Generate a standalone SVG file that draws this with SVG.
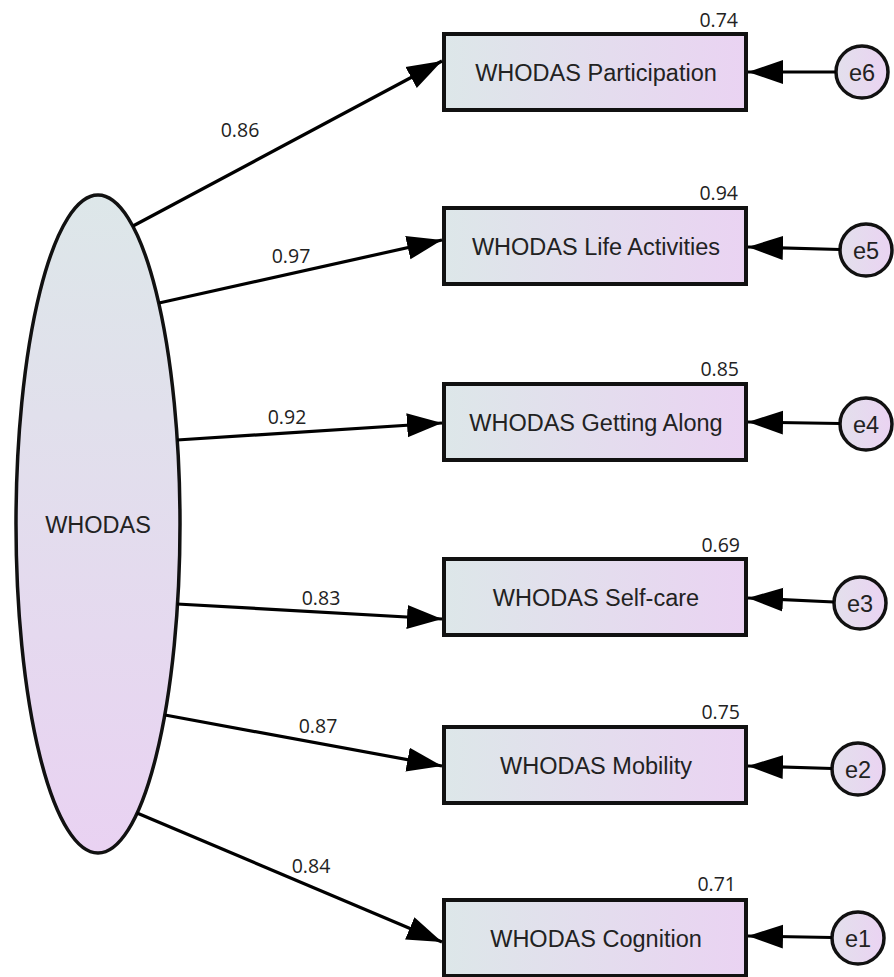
<svg xmlns="http://www.w3.org/2000/svg" width="894" height="977" viewBox="0 0 894 977">
<defs>
<linearGradient id="gBox" x1="0" y1="0" x2="1" y2="0"><stop offset="0" stop-color="#dde7e9"/><stop offset="1" stop-color="#ead3f2"/></linearGradient>
<linearGradient id="gEll" x1="0" y1="0" x2="0" y2="1"><stop offset="0" stop-color="#dde7e9"/><stop offset="1" stop-color="#e9d2f2"/></linearGradient>
<linearGradient id="gErr" x1="0" y1="0" x2="1" y2="0"><stop offset="0" stop-color="#e3e0ec"/><stop offset="1" stop-color="#ead3f2"/></linearGradient>
<marker id="arrow" markerUnits="userSpaceOnUse" markerWidth="37" markerHeight="27" refX="35" refY="12.5" orient="auto"><path d="M0,0.5 L35,12.5 L0,24.5 Z" fill="#000"/></marker>
</defs>
<style>
.conn{stroke:#000;stroke-width:3.2;fill:none;marker-end:url(#arrow)}
.box{fill:url(#gBox);stroke:#111;stroke-width:4}
.err{fill:url(#gErr);stroke:#111;stroke-width:3.5}
.ell{fill:url(#gEll);stroke:#111;stroke-width:3.5}
.lbl{font-family:"Liberation Sans",Arial,sans-serif;font-size:23.5px;fill:#222;text-anchor:middle}
.num{font-family:"Open Sans","Noto Sans",sans-serif;font-size:19.5px;fill:#222}
.val{text-anchor:end}
.pl{text-anchor:middle}
</style>

<g id="WHODAS">
<ellipse class="ell" cx="98" cy="524" rx="82" ry="329"/>
<text class="lbl" x="98" y="532.5">WHODAS</text>
</g>

<g id="participation">
<rect class="box" x="444" y="34" width="302" height="76"/>
<text class="lbl" x="596" y="80.5">WHODAS Participation</text>
<text class="num val" x="738" y="27">0.74</text>
</g>
<g id="life">
<rect class="box" x="444" y="208" width="302" height="76"/>
<text class="lbl" x="596" y="254.5">WHODAS Life Activities</text>
<text class="num val" x="738" y="200">0.94</text>
</g>
<g id="getting">
<rect class="box" x="444" y="384" width="302" height="76"/>
<text class="lbl" x="596" y="430.5">WHODAS Getting Along</text>
<text class="num val" x="739" y="376">0.85</text>
</g>
<g id="selfcare">
<rect class="box" x="444" y="559" width="302" height="76"/>
<text class="lbl" x="596" y="605.5">WHODAS Self-care</text>
<text class="num val" x="740" y="552">0.69</text>
</g>
<g id="mobility">
<rect class="box" x="444" y="727" width="302" height="76"/>
<text class="lbl" x="596" y="773.5">WHODAS Mobility</text>
<text class="num val" x="740" y="719">0.75</text>
</g>
<g id="cognition">
<rect class="box" x="444" y="900" width="302" height="76"/>
<text class="lbl" x="596" y="946.5">WHODAS Cognition</text>
<text class="num val" x="736" y="891">0.71</text>
</g>

<g id="e6"><circle class="err" cx="862" cy="72" r="26"/><text class="lbl" x="862" y="80.5">e6</text></g>
<g id="e5"><circle class="err" cx="866" cy="250" r="26"/><text class="lbl" x="866" y="258.5">e5</text></g>
<g id="e4"><circle class="err" cx="866" cy="424" r="26"/><text class="lbl" x="866" y="432.5">e4</text></g>
<g id="e3"><circle class="err" cx="860" cy="603" r="26"/><text class="lbl" x="860" y="611.5">e3</text></g>
<g id="e2"><circle class="err" cx="858" cy="769" r="26"/><text class="lbl" x="858" y="777.5">e2</text></g>
<g id="e1"><circle class="err" cx="858" cy="938" r="26"/><text class="lbl" x="858" y="946.5">e1</text></g>

<g id="connectors">
<path class="conn" d="M133,226 L442,61"/>
<path class="conn" d="M159,303 L442,240"/>
<path class="conn" d="M177,440 L442,423"/>
<path class="conn" d="M177,604 L442,619"/>
<path class="conn" d="M165,715 L442,766"/>
<path class="conn" d="M137,813 L442,942"/>
<path class="conn" d="M836,72 L748,72"/>
<path class="conn" d="M840,249.5 L748,247"/>
<path class="conn" d="M840,423.5 L748,422"/>
<path class="conn" d="M834,602 L748,598"/>
<path class="conn" d="M832,768.5 L748,766"/>
<path class="conn" d="M832,937.5 L748,936"/>
<text class="num pl" x="240" y="137">0.86</text>
<text class="num pl" x="291" y="263">0.97</text>
<text class="num pl" x="287" y="424">0.92</text>
<text class="num pl" x="321" y="605">0.83</text>
<text class="num pl" x="318" y="733">0.87</text>
<text class="num pl" x="311" y="873">0.84</text>
</g>
</svg>
